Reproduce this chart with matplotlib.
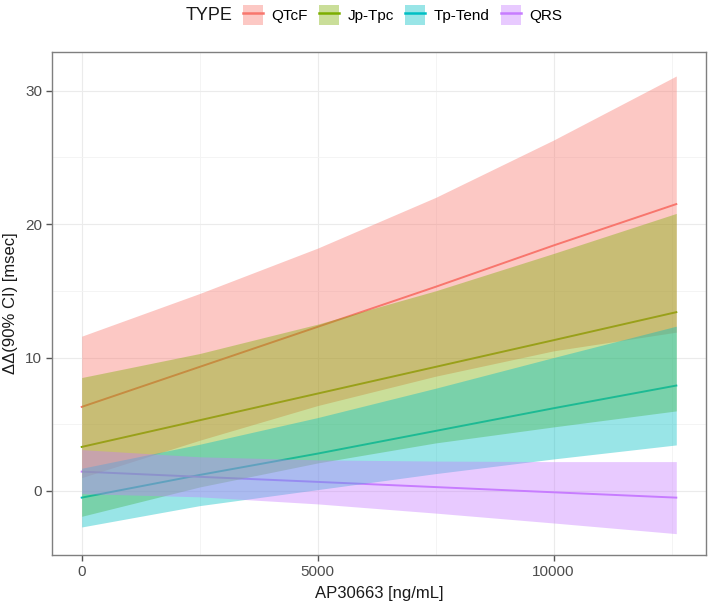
import matplotlib
matplotlib.use("Agg")
import matplotlib.pyplot as plt
from matplotlib.patches import Patch
from matplotlib.lines import Line2D
from matplotlib.ticker import MultipleLocator

plt.rcParams["font.family"] = ["Liberation Sans", "DejaVu Sans"]

# concentration grid (ng/mL)
conc = [0, 2500, 5000, 7500, 10000, 12600]

types = ["QTcF", "Jp-Tpc", "Tp-Tend", "QRS"]
colors = ["#F8766D", "#7CAE00", "#00BFC4", "#C77CFF"]

# predicted effect and 90% CI (msec)
qtcf_fit = [6.3, 9.3, 12.3, 15.3, 18.4, 21.5]
qtcf_lo = [1.0, 3.8, 6.4, 8.6, 10.5, 11.9]
qtcf_hi = [11.6, 14.8, 18.2, 22.0, 26.3, 31.1]

jptpc_fit = [3.3, 5.3, 7.3, 9.3, 11.3, 13.4]
jptpc_lo = [-1.9, 0.3, 2.1, 3.6, 4.8, 6.0]
jptpc_hi = [8.5, 10.3, 12.5, 15.0, 17.8, 20.8]

tptend_fit = [-0.5, 1.2, 2.8, 4.5, 6.2, 7.9]
tptend_lo = [-2.7, -1.1, 0.1, 1.3, 2.4, 3.45]
tptend_hi = [1.7, 3.5, 5.5, 7.7, 10.0, 12.35]

qrs_fit = [1.45, 1.06, 0.68, 0.29, -0.1, -0.5]
qrs_lo = [-0.2, -0.44, -0.97, -1.66, -2.4, -3.2]
qrs_hi = [3.1, 2.56, 2.33, 2.24, 2.2, 2.2]

fits = [qtcf_fit, jptpc_fit, tptend_fit, qrs_fit]
los = [qtcf_lo, jptpc_lo, tptend_lo, qrs_lo]
his = [qtcf_hi, jptpc_hi, tptend_hi, qrs_hi]

fig = plt.figure(figsize=(7.09, 6.03), dpi=100)
ax = fig.add_axes([0.0733, 0.0796, 0.9225, 0.8342])

# lines first, ribbons over them (like ggplot layer order)
for fit, c in zip(fits, colors):
    ax.plot(conc, fit, color=c, lw=1.4, zorder=2)
for lo, hi, c in zip(los, his, colors):
    ax.fill_between(conc, lo, hi, color=c, alpha=0.4, lw=0, zorder=3)

ax.set_xlim(-630, 13230)
ax.set_ylim(-4.8, 32.9)
ax.xaxis.set_major_locator(MultipleLocator(5000))
ax.xaxis.set_minor_locator(MultipleLocator(2500))
ax.yaxis.set_major_locator(MultipleLocator(10))
ax.yaxis.set_minor_locator(MultipleLocator(5))
ax.grid(which="major", color="#EBEBEB", lw=0.8, zorder=0)
ax.grid(which="minor", color="#F3F3F3", lw=0.6, zorder=0)
ax.set_axisbelow(True)
for s in ax.spines.values():
    s.set_color("#7F7F7F")
    s.set_linewidth(1.0)
ax.tick_params(which="major", length=4, width=1.0, color="#555555",
               labelsize=11, labelcolor="#4D4D4D", pad=3)
ax.tick_params(which="minor", length=0)

ax.set_xlabel("AP30663 [ng/mL]", fontsize=12, color="#1A1A1A", labelpad=5)
ax.set_ylabel("ΔΔ(90% CI) [msec]", fontsize=12, color="#1A1A1A", labelpad=5)

handles = [(Patch(facecolor=c, alpha=0.4, lw=0), Line2D([], [], color=c, lw=1.8))
           for c in colors]
fig.text(0.262, 0.975, "TYPE", fontsize=13, va="center", ha="left", color="#1A1A1A")
fig.legend(handles, types, loc="center left", bbox_to_anchor=(0.343, 0.975),
           ncol=4, frameon=False, fontsize=11, handlelength=1.3, handleheight=1.6,
           handletextpad=0.55, columnspacing=0.75, borderaxespad=0, borderpad=0)

fig.savefig("out.png", dpi=100)
